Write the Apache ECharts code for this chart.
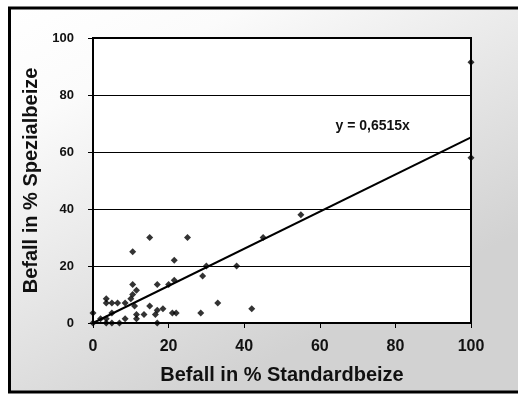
<!DOCTYPE html>
<html>
<head>
<meta charset="utf-8">
<script src="https://cdn.jsdelivr.net/npm/echarts@6/dist/echarts.min.js"></script>
<style>
  html, body { margin: 0; padding: 0; background: #ffffff; }
  #chart { width: 518px; height: 394px; }
</style>
</head>
<body>
<div id="chart"></div>
<script>
// Befall (%) nach Standardbeize (x) und Spezialbeize (y), je Probe
const standardbeize = [
  0, 0, 2, 3.5, 3.5, 5, 7, 17,
  5, 8.5, 11.5, 11.5, 13.5, 16.5, 21, 22, 28.5,
  3.5, 5, 6.5, 8.5, 3.5, 10, 10.5, 11, 15, 17, 18.5,
  11.5, 10.5, 17, 20, 21.5, 29, 30, 38, 33, 42,
  10.5, 15, 25, 21.5, 45, 55, 100, 100
];
const spezialbeize = [
  0, 3.5, 1.5, 1.5, 0, 0, 0, 0,
  3.5, 1.5, 1.5, 3, 3, 3, 3.5, 3.5, 3.5,
  7, 7, 7, 7, 8.5, 8.5, 10, 6, 6, 4.5, 5,
  11.5, 13.5, 13.5, 13.5, 15, 16.5, 20, 20, 7, 5,
  25, 30, 30, 22, 30, 38, 58, 91.5
];

// Regressionsgerade durch den Ursprung
const trendSlope = 0.6515;
const trendLabel = 'y = 0,6515x';
const trendLabelAt = [74, 69];

const xAxisTitle = 'Befall in % Standardbeize';
const yAxisTitle = 'Befall in % Spezialbeize';
const axisMin = 0;
const axisMax = 100;
const axisStep = 20;

const FONT = 'Arial, "Liberation Sans", Helvetica, sans-serif';

const points = standardbeize.map((x, i) => [x, spezialbeize[i]]);
const trendLine = [[axisMin, axisMin * trendSlope], [axisMax, axisMax * trendSlope]];

const chart = echarts.init(document.getElementById('chart'), null, { renderer: 'canvas' });

chart.setOption({
  animation: false,
  backgroundColor: '#ffffff',
  graphic: [{
    type: 'rect',
    z: -10,
    silent: true,
    shape: { x: 9.5, y: 8, width: 560, height: 384 },
    style: {
      fill: {
        type: 'linear', x: 0, y: 0, x2: 0.35, y2: 1,
        colorStops: [
          { offset: 0, color: '#ffffff' },
          { offset: 0.25, color: '#fbfbfb' },
          { offset: 1, color: '#d2d2d2' }
        ]
      },
      stroke: '#000000',
      lineWidth: 3
    }
  }],
  grid: {
    left: 93, top: 38, right: 47, bottom: 71,
    show: true,
    backgroundColor: '#ffffff',
    borderColor: '#000000',
    borderWidth: 2
  },
  xAxis: {
    type: 'value',
    min: axisMin, max: axisMax, interval: axisStep,
    name: xAxisTitle,
    nameLocation: 'middle',
    nameGap: 42,
    nameTextStyle: { fontFamily: FONT, fontSize: 20, fontWeight: 'bold', color: '#111' },
    axisLine: { show: true, onZero: false, lineStyle: { color: '#000', width: 2 } },
    axisTick: { show: true, inside: false, length: 5, lineStyle: { color: '#000', width: 1 } },
    axisLabel: { margin: 16, fontFamily: FONT, fontSize: 16, fontWeight: 'bold', color: '#111' },
    splitLine: { show: false }
  },
  yAxis: {
    type: 'value',
    min: axisMin, max: axisMax, interval: axisStep,
    name: yAxisTitle,
    nameLocation: 'middle',
    nameRotate: 90,
    nameGap: 52,
    nameTextStyle: { fontFamily: FONT, fontSize: 20, fontWeight: 'bold', color: '#111' },
    axisLine: { show: true, onZero: false, lineStyle: { color: '#000', width: 2 } },
    axisTick: { show: true, inside: false, length: 5, lineStyle: { color: '#000', width: 1 } },
    axisLabel: { margin: 19, fontFamily: FONT, fontSize: 13, fontWeight: 'bold', color: '#111' },
    splitLine: { show: true, lineStyle: { color: '#000', width: 1 } }
  },
  series: [
    {
      type: 'line',
      data: trendLine,
      symbol: 'none',
      lineStyle: { color: '#000', width: 2 },
      z: 3,
      markPoint: {
        symbol: 'rect',
        symbolSize: 0,
        data: [{ coord: trendLabelAt }],
        label: {
          show: true,
          position: 'inside',
          formatter: trendLabel,
          fontFamily: FONT, fontSize: 14, fontWeight: 'bold', color: '#111'
        }
      }
    },
    {
      type: 'scatter',
      data: points,
      symbol: 'diamond',
      symbolSize: 7,
      itemStyle: { color: '#000' },
      z: 4
    }
  ]
});
</script>
</body>
</html>
